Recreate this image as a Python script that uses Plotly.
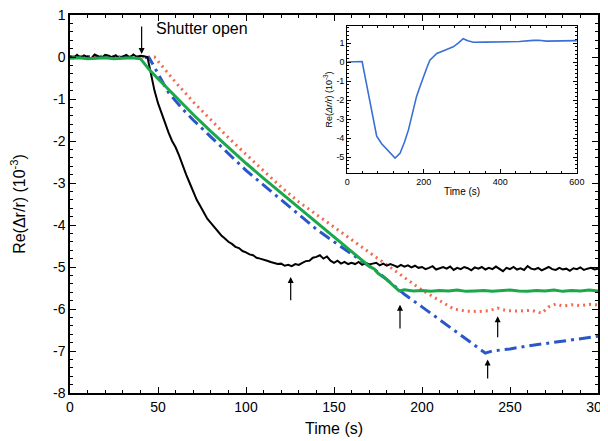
import numpy as np
import plotly.graph_objects as go

# black trace, sampled every 2 s from 0 to 300 s
black_y = [
    0.02, -0.03, 0.05, -0.02, 0.04, 0.0, -0.04, 0.06, 0.01, -0.02,          # 0-18
    0.05, 0.03, -0.01, 0.04, -0.03, 0.02, 0.05, -0.02, 0.06, 0.0,           # 20-38
    0.03, 0.02, 0.0, -0.4, -0.8, -1.1, -1.35, -1.6, -1.8, -2.0,             # 40-58
    -2.15, -2.35, -2.6, -2.8, -3.0, -3.2, -3.4, -3.55, -3.7, -3.85,         # 60-78
    -3.95, -4.05, -4.15, -4.25, -4.32, -4.4, -4.45, -4.52, -4.55, -4.62,    # 80-98
    -4.65, -4.7, -4.72, -4.78, -4.8, -4.82, -4.85, -4.88, -4.9, -4.93,      # 100-118
    -4.92, -4.97, -4.95, -4.98, -4.93, -4.95, -4.9, -4.86, -4.85, -4.78,    # 120-138
    -4.76, -4.72, -4.8, -4.75, -4.85, -4.9, -4.85, -4.92, -4.88, -4.93,     # 140-158
    -4.9, -4.93, -4.88, -4.95, -4.9, -4.94, -4.92, -4.9, -4.96, -4.92,      # 160-178
    -4.97, -4.93, -4.96, -5.0, -4.95, -4.99, -4.96, -5.01, -4.97, -5.02,    # 180-198
    -5.0, -5.05, -5.02, -4.98, -5.06, -5.03, -5.0, -5.04, -4.99, -5.07,     # 200-218
    -5.02, -5.05, -5.0, -5.03, -5.08, -5.01, -5.04, -5.0, -5.06, -5.02,     # 220-238
    -5.05, -4.99, -5.04, -5.1, -5.02, -5.05, -5.0, -5.06, -5.03, -5.07,     # 240-258
    -4.98, -5.04, -5.06, -5.02, -5.08, -5.03, -5.0, -5.05, -5.07, -5.02,    # 260-278
    -5.06, -5.04, -5.09, -5.03, -5.05, -5.01, -5.07, -5.04, -5.02, -5.06,   # 280-298
    -5.04,                                                                  # 300
]
black_t = np.arange(0, 2 * len(black_y), 2)

green_t = [0, 5, 10, 15, 20, 25, 30, 35, 40, 45, 50, 60, 70, 80, 91, 100, 110,
           120, 130, 140, 150, 160, 170, 173, 175, 180, 187, 190, 195, 200, 205,
           210, 215, 220, 225, 230, 235, 240, 245, 250, 255, 260, 265, 270, 275,
           280, 285, 290, 295, 300]
green_y = [-0.03, -0.02, -0.04, -0.03, -0.02, -0.04, -0.03, -0.02, -0.04, -0.3,
           -0.52, -0.95, -1.37, -1.77, -2.2, -2.53, -2.89, -3.24, -3.6, -3.95,
           -4.3, -4.65, -4.98, -5.05, -5.15, -5.3, -5.57, -5.54, -5.57, -5.56,
           -5.58, -5.56, -5.57, -5.55, -5.58, -5.57, -5.56, -5.58, -5.57, -5.55,
           -5.57, -5.58, -5.56, -5.57, -5.55, -5.58, -5.56, -5.57, -5.55, -5.57]

red_t = [0, 10, 20, 30, 40, 48, 50, 55, 60, 70, 80, 90, 97, 110, 120, 130, 150,
         170, 190, 200, 210, 218, 225, 232, 238, 243, 248, 255, 262, 268, 272,
         276, 280, 285, 290, 295, 300]
red_y = [0.0, 0.0, 0.02, 0.0, 0.0, 0.0, -0.1, -0.35, -0.6, -1.07, -1.5, -1.92,
         -2.2, -2.7, -3.1, -3.45, -4.05, -4.65, -5.25, -5.55, -5.8, -6.0, -6.05,
         -6.06, -6.04, -5.98, -6.04, -6.05, -6.03, -6.1, -5.95, -5.88, -5.93,
         -5.9, -5.92, -5.89, -5.9]

blue_t = [0, 10, 20, 30, 40, 45, 48, 52, 56, 64, 70, 80, 90, 100, 110, 120, 130,
          140, 150, 160, 170, 175, 180, 190, 200, 210, 220, 230, 236, 240, 250,
          260, 270, 280, 290, 300]
blue_y = [0.0, 0.01, -0.01, 0.0, 0.0, -0.02, -0.25, -0.55, -0.85, -1.24, -1.5,
          -1.9, -2.3, -2.7, -3.05, -3.4, -3.75, -4.1, -4.4, -4.7, -4.98, -5.12,
          -5.3, -5.65, -5.95, -6.25, -6.55, -6.85, -7.05, -7.0, -6.95, -6.88,
          -6.82, -6.76, -6.7, -6.65]

# inset: full 600 s run
inset_t = [0, 20, 39, 45, 60, 77, 90, 103, 115, 125, 138, 150, 160, 170, 181,
           190, 199, 208, 216, 225, 234, 255, 277, 290, 303, 315, 330, 360, 408,
           450, 486, 500, 521, 560, 600]
inset_y = [0.0, 0.02, 0.03, -0.6, -2.2, -3.9, -4.3, -4.6, -4.85, -5.05, -4.8,
           -4.2, -3.57, -2.7, -1.82, -1.3, -0.77, -0.3, 0.1, 0.3, 0.45, 0.62,
           0.8, 1.0, 1.23, 1.12, 1.04, 1.05, 1.05, 1.08, 1.14, 1.15, 1.1, 1.1, 1.13]

x_ticks = [0, 50, 100, 150, 200, 250, 300]
y_ticks = [1, 0, -1, -2, -3, -4, -5, -6, -7, -8]
inset_x_ticks = [0, 200, 400, 600]
inset_y_ticks = [1, 0, -1, -2, -3, -4, -5]

FONT = "Liberation Sans, Arial, sans-serif"

fig = go.Figure()
fig.add_trace(go.Scatter(x=red_t, y=red_y, mode="lines",
                         line=dict(color="#f26a50", width=3, dash="2px,4px")))
fig.add_trace(go.Scatter(x=blue_t, y=blue_y, mode="lines",
                         line=dict(color="#2a56c8", width=3, dash="12px,5px,3px,5px")))
fig.add_trace(go.Scatter(x=black_t, y=black_y, mode="lines",
                         line=dict(color="black", width=2)))
fig.add_trace(go.Scatter(x=green_t, y=green_y, mode="lines",
                         line=dict(color="#1ba84a", width=3)))
fig.add_trace(go.Scatter(x=inset_t, y=inset_y, mode="lines", xaxis="x2", yaxis="y2",
                         line=dict(color="#3a6fd8", width=1.6)))

axis_common = dict(showgrid=False, zeroline=False, showline=True, linecolor="black",
                   mirror="ticks", ticks="inside", tickcolor="black", automargin=False,
                   ticklabeloverflow="allow")

# the page body adds an 8px offset, so the figure is a bit smaller than the window
fig.update_layout(
    width=600, height=433,
    margin=dict(l=62, r=10, t=7, b=48),
    paper_bgcolor="white", plot_bgcolor="white",
    showlegend=False,
    font=dict(family=FONT, color="black", size=14),
    xaxis=dict(range=[0, 300], tickvals=x_ticks, ticklen=6, linewidth=1.5,
               minor=dict(dtick=10, ticklen=3, ticks="inside", tickcolor="black"),
               title=dict(text="Time (s)", font=dict(size=16), standoff=9),
               **axis_common),
    yaxis=dict(range=[-8, 1], tickvals=y_ticks, ticktext=[str(v) for v in y_ticks],
               ticklen=6, linewidth=1.5,
               minor=dict(dtick=0.2, ticklen=3, ticks="inside", tickcolor="black"),
               title=dict(text="Re(\u0394r/r) (10<sup>-3</sup>)", font=dict(size=16),
                          standoff=24),
               **axis_common),
    xaxis2=dict(domain=[0.525, 0.96], anchor="y2", range=[0, 600],
                tickvals=inset_x_ticks, ticklen=4, linewidth=1, tickfont=dict(size=9),
                minor=dict(dtick=40, ticklen=2, ticks="inside", tickcolor="black"),
                title=dict(text="Time (s)", font=dict(size=10), standoff=2),
                **axis_common),
    yaxis2=dict(domain=[0.582, 0.971], anchor="x2", range=[-5.84, 1.9],
                tickvals=inset_y_ticks, ticktext=[str(v) for v in inset_y_ticks],
                ticklen=4, linewidth=1, tickfont=dict(size=9),
                minor=dict(dtick=0.2, ticklen=2, ticks="inside", tickcolor="black"),
                title=dict(text="Re(<i>\u0394r/r</i>) (10<sup>-3</sup>)",
                           font=dict(size=9), standoff=2),
                **axis_common),
)

fig.add_annotation(x=48, y=0.67, text="Shutter open", showarrow=False,
                   xanchor="left", font=dict(size=16))

# arrows: (head x, head y, tail y)
arrows = [(40.7, 0.07, 0.76), (125.4, -5.24, -5.83), (187.5, -5.9, -6.5),
          (243, -6.17, -6.71), (237.3, -7.2, -7.69)]
for ax_, hy, ty in arrows:
    fig.add_annotation(x=ax_, y=hy, ax=ax_, ay=ty, axref="x", ayref="y",
                       text="", showarrow=True, arrowhead=2, arrowsize=1,
                       arrowwidth=1.2, arrowcolor="black")

fig.write_html("out.html")
